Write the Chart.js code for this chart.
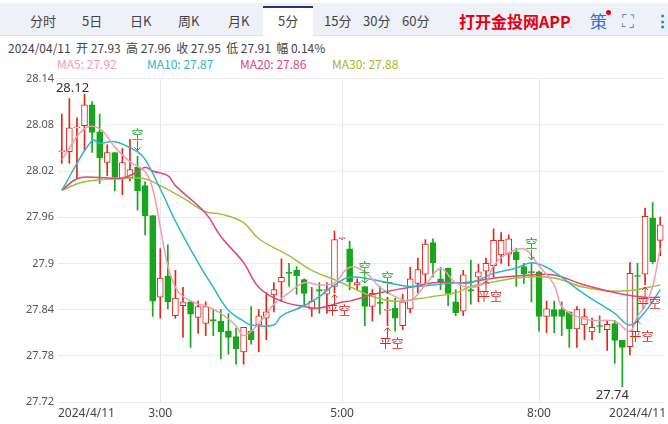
<!DOCTYPE html>
<html>
<head>
<meta charset="utf-8">
<script src="https://cdn.jsdelivr.net/npm/chart.js@4"></script>
<style>
  body { margin: 0; width: 668px; height: 424px; background: #fff; font-family: "Noto Sans CJK SC", "Noto Sans", sans-serif; overflow: hidden; position: relative; }
  .tabs { position: absolute; left: 0; top: 3px; width: 668px; height: 32px; background: #eef1f7; border-bottom: 1px solid #dde3ec; }
  .tab { position: absolute; top: 8px; font-size: 13px; color: #444; }
  .sel { position: absolute; left: 263px; top: 3px; width: 50px; height: 33px; background: #fff; border-top: 2px solid #1d3b7a; box-sizing: border-box; }
  .app { position: absolute; left: 459px; top: 6px; font-size: 16px; font-weight: bold; color: #e60012; }
  .info { position: absolute; left: 8px; top: 39px; font-size: 12px; color: #444; white-space: pre; }
  .ma { position: absolute; top: 55px; font-size: 12px; }
  #wrap { position: absolute; left: 0; top: 68px; width: 668px; height: 356px; }
</style>
</head>
<body>
<div class="tabs">
  <div class="sel"></div>
  <span class="tab" style="left:30px">分时</span>
  <span class="tab" style="left:82px">5日</span>
  <span class="tab" style="left:130px">日K</span>
  <span class="tab" style="left:178px">周K</span>
  <span class="tab" style="left:228px">月K</span>
  <span class="tab" style="left:278px">5分</span>
  <span class="tab" style="left:324px">15分</span>
  <span class="tab" style="left:363px">30分</span>
  <span class="tab" style="left:402px">60分</span>
  <span class="app">打开金投网APP</span>
  <span class="tab" style="left:590px;top:5px;font-size:17px;color:#2a6fd6">策</span>
  <span style="position:absolute;left:606px;top:7px;width:5px;height:5px;border-radius:50%;background:#e60012"></span>
  <span class="tab" style="left:622px;top:4px;font-size:17px;color:#2a6fd6">⛶</span>
  <span class="tab" style="left:654px;top:4px;font-size:17px;color:#2a6fd6;font-weight:bold">⋮</span>
</div>
<div class="info">2024/04/11  开 27.93  高 27.96  收 27.95  低 27.91  幅 0.14%</div>
<div class="ma" style="left:57px;color:#f29bb5">MA5: 27.92</div>
<div class="ma" style="left:147px;color:#32b4cc">MA10: 27.87</div>
<div class="ma" style="left:240px;color:#e0457b">MA20: 27.86</div>
<div class="ma" style="left:332px;color:#9bbb2a">MA30: 27.88</div>
<div id="wrap"><canvas id="c"></canvas></div>
<script>
// candles: open, high, low, close (5-minute bars)
const opens  = [28.045,28.045,28.076,28.079,28.106,28.071,28.031,28.044,28.010,28.011,28.025,28.001,27.962,27.856,27.884,27.832,27.845,27.850,27.830,27.822,
                27.827,27.825,27.812,27.805,27.785,27.812,27.820,27.829,27.859,27.876,27.888,27.891,27.879,27.841,27.866,27.860,27.870,27.932,27.919,27.872,
                27.870,27.844,27.849,27.839,27.842,27.819,27.841,27.874,27.886,27.927,27.880,27.894,27.850,27.838,27.866,27.882,27.890,27.897,27.911,27.912,
                27.915,27.896,27.889,27.889,27.831,27.840,27.840,27.837,27.815,27.820,27.811,27.819,27.814,27.822,27.800,27.792,27.884,27.886,27.959,27.930];
const highs  = [28.094,28.114,28.089,28.120,28.110,28.094,28.054,28.044,28.049,28.061,28.039,28.006,27.962,27.919,27.924,27.891,27.869,27.850,27.851,27.850,
                27.840,27.840,27.835,27.816,27.817,27.844,27.840,27.862,27.875,27.906,27.900,27.896,27.880,27.869,27.875,27.875,27.942,27.933,27.929,27.880,
                27.870,27.866,27.870,27.856,27.855,27.860,27.895,27.907,27.931,27.932,27.895,27.894,27.866,27.891,27.904,27.899,27.907,27.945,27.940,27.937,
                27.920,27.900,27.900,27.890,27.851,27.851,27.850,27.837,27.844,27.841,27.829,27.832,27.826,27.826,27.800,27.901,27.900,27.972,27.979,27.960];
const lows   = [28.030,28.030,28.011,28.047,28.044,28.004,28.014,27.994,27.989,28.007,27.969,27.937,27.831,27.829,27.841,27.829,27.804,27.791,27.809,27.806,
                27.806,27.776,27.782,27.769,27.769,27.795,27.785,27.801,27.837,27.851,27.870,27.860,27.844,27.831,27.835,27.835,27.862,27.931,27.866,27.866,
                27.819,27.825,27.834,27.819,27.812,27.814,27.836,27.862,27.872,27.882,27.866,27.845,27.832,27.832,27.847,27.850,27.880,27.882,27.900,27.897,
                27.870,27.874,27.850,27.812,27.810,27.810,27.806,27.791,27.791,27.801,27.801,27.810,27.787,27.770,27.740,27.781,27.825,27.872,27.900,27.910];
const closes = [28.046,28.076,28.077,28.106,28.070,28.037,28.044,28.012,28.031,28.022,27.994,27.962,27.851,27.881,27.850,27.855,27.850,27.834,27.844,27.844,
                27.825,27.811,27.804,27.789,27.817,27.801,27.832,27.837,27.866,27.882,27.887,27.884,27.861,27.851,27.864,27.866,27.931,27.933,27.876,27.875,
                27.844,27.861,27.848,27.840,27.829,27.850,27.880,27.892,27.925,27.901,27.875,27.861,27.836,27.885,27.864,27.889,27.900,27.930,27.930,27.932,
                27.905,27.886,27.888,27.831,27.841,27.831,27.831,27.815,27.840,27.831,27.817,27.818,27.821,27.800,27.791,27.887,27.883,27.961,27.902,27.950];

// moving averages at sample candles (index -> value)
const ma5Pts  = [[0,28.035],[3,28.075],[5,28.075],[7,28.051],[9,28.032],[11,28.019],[12,27.997],[13,27.947],[14,27.897],[15,27.869],[16,27.857],[18,27.847],
                 [19,27.845],[21,27.835],[23,27.819],[24,27.806],[26,27.822],[28,27.847],[30,27.862],[32,27.875],[34,27.872],[36,27.875],[38,27.895],[40,27.889],
                 [42,27.869],[44,27.857],[46,27.852],[48,27.872],[50,27.893],[52,27.875],[54,27.869],[56,27.876],[57,27.897],[59,27.914],[61,27.919],[62,27.910],
                 [63,27.897],[65,27.872],[66,27.844],[68,27.831],[70,27.826],[73,27.825],[75,27.812],[76,27.831],[77,27.845],[78,27.870],[79,27.920]];
const ma10Pts = [[0,27.995],[4,28.060],[5,28.056],[7,28.058],[10,28.045],[11,28.035],[13,27.997],[15,27.955],[18,27.901],[20,27.869],[22,27.839],[24,27.825],
                 [25,27.820],[28,27.820],[29,27.832],[32,27.845],[34,27.857],[36,27.872],[38,27.882],[41,27.879],[43,27.875],[46,27.870],[49,27.872],[52,27.875],
                 [54,27.875],[57,27.887],[60,27.894],[62,27.901],[64,27.895],[66,27.882],[69,27.860],[73,27.835],[75,27.820],[77,27.837],[78,27.851],[79,27.866]];
const ma20Pts = [[0,27.995],[2,28.010],[4,28.012],[8,28.011],[10,28.019],[11,28.025],[12,28.020],[14,28.014],[15,28.001],[19,27.965],[21,27.935],[24,27.901],
                 [26,27.869],[29,27.851],[32,27.844],[34,27.842],[37,27.850],[38,27.851],[42,27.862],[46,27.869],[49,27.875],[53,27.875],[54,27.876],[58,27.882],
                 [62,27.885],[65,27.885],[69,27.872],[74,27.860],[77,27.856],[79,27.856]];
const ma30Pts = [[0,27.995],[3,28.006],[8,28.010],[11,28.010],[13,28.001],[16,27.985],[19,27.967],[21,27.964],[24,27.953],[26,27.932],[30,27.910],[33,27.891],
                 [36,27.879],[38,27.870],[41,27.857],[44,27.851],[47,27.854],[49,27.857],[52,27.862],[54,27.870],[57,27.876],[61,27.882],[65,27.881],[69,27.869],
                 [74,27.864],[79,27.872]];

const yTicks = [28.14, 28.08, 28.02, 27.96, 27.9, 27.84, 27.78, 27.72];
const timeLabels = { 0: '2024/4/11', 13: '3:00', 37: '5:00', 63: '8:00', 79: '2024/4/11' };
// trade signal markers: [index, price, text, kind]
const signals = [[10, 28.044, '空', 'short'], [40, 27.872, '空', 'short'], [43, 27.858, '空', 'short'], [62, 27.902, '空', 'short'],
                 [36, 27.862, '平空', 'cover'], [43, 27.819, '平空', 'cover'], [56, 27.880, '平空', 'cover'], [76, 27.828, '平空', 'cover'], [77, 27.872, '平空', 'cover']];

const UP = '#e0271b';
const DOWN = '#17a61d';
const labels = closes.map((_, i) => i);
const isUp = closes.map((c, i) => c >= opens[i]);

function sparse(pts) {
    const arr = labels.map(() => null);
    pts.forEach(([i, v]) => { arr[i] = v; });
    return arr;
}

function maSet(pts, color) {
    return {
        type: 'line', data: sparse(pts), borderColor: color, borderWidth: 1.5,
        pointRadius: 0, tension: 0.4, spanGaps: true, order: 0
    };
}

const extras = {
    id: 'extras',
    afterDraw(chart) {
        const { ctx, scales: { x, y }, chartArea } = chart;
        ctx.save();
        // time labels
        ctx.font = '12px "Noto Sans", sans-serif';
        ctx.fillStyle = '#444';
        ctx.textBaseline = 'top';
        Object.keys(timeLabels).forEach(k => {
            const i = Number(k);
            const px = x.getPixelForValue(i);
            const t = timeLabels[k];
            ctx.textAlign = i === 0 ? 'left' : (i === labels.length - 1 ? 'right' : 'center');
            const tx = i === 0 ? chartArea.left : (i === labels.length - 1 ? chartArea.right + 2 : px);
            ctx.fillText(t, tx, chartArea.bottom + 6);
        });
        // max / min labels
        ctx.font = '13px "Noto Sans", sans-serif';
        ctx.fillStyle = '#333';
        ctx.textAlign = 'center';
        ctx.textBaseline = 'bottom';
        ctx.fillText('28.12', x.getPixelForValue(3) - 12, y.getPixelForValue(28.12) + 1);
        ctx.textBaseline = 'top';
        ctx.fillText('27.74', x.getPixelForValue(74) - 10, y.getPixelForValue(27.74) + 2);
        // signals
        ctx.font = '12px "Noto Sans CJK SC", sans-serif';
        signals.forEach(([i, p, txt, kind]) => {
            const px = x.getPixelForValue(i);
            const py = y.getPixelForValue(p);
            if (kind === 'short') {
                ctx.fillStyle = ctx.strokeStyle = DOWN;
                ctx.textBaseline = 'bottom';
                ctx.fillText(txt, px, py - 12);
                ctx.beginPath(); ctx.moveTo(px, py - 12); ctx.lineTo(px, py - 2);
                ctx.moveTo(px - 3, py - 5); ctx.lineTo(px, py - 2); ctx.lineTo(px + 3, py - 5); ctx.stroke();
            } else {
                ctx.fillStyle = ctx.strokeStyle = UP;
                ctx.textBaseline = 'top';
                ctx.beginPath(); ctx.moveTo(px, py + 2); ctx.lineTo(px, py + 12);
                ctx.moveTo(px - 3, py + 5); ctx.lineTo(px, py + 2); ctx.lineTo(px + 3, py + 5); ctx.stroke();
                ctx.fillText(txt, px + 4, py + 12);
            }
        });
        ctx.restore();
    }
};

new Chart(document.getElementById('c'), {
    type: 'bar',
    data: {
        labels: labels,
        datasets: [
            maSet(ma5Pts, '#f29bb5'),
            maSet(ma10Pts, '#32b4cc'),
            maSet(ma20Pts, '#e0457b'),
            maSet(ma30Pts, '#a3bf3a'),
            {
                // bodies
                data: labels.map(i => [opens[i], closes[i]]),
                backgroundColor: isUp.map(u => u ? '#ffffff' : DOWN),
                borderColor: isUp.map(u => u ? UP : DOWN),
                borderWidth: 1, borderSkipped: false, barThickness: 6,
                minBarLength: 1, grouped: false, order: 1
            },
            {
                // wicks
                data: labels.map(i => [lows[i], highs[i]]),
                backgroundColor: isUp.map(u => u ? UP : DOWN),
                borderWidth: 0, barThickness: 1, grouped: false, order: 2
            }
        ]
    },
    options: {
        responsive: true,
        maintainAspectRatio: false,
        animation: false,
        layout: { padding: { top: 8, right: 4, bottom: 22, left: 0 } },
        plugins: { legend: { display: false }, tooltip: { enabled: false } },
        scales: {
            x: {
                offset: true,
                ticks: { display: false },
                border: { display: false },
                grid: {
                    color: ctx => (ctx.index in timeLabels && ctx.index !== 0 && ctx.index !== labels.length - 1) ? '#e8e8e8' : 'rgba(0,0,0,0)',
                    offset: false, drawTicks: false
                }
            },
            y: {
                min: 27.72, max: 28.14,
                afterBuildTicks: s => { s.ticks = yTicks.map(v => ({ value: v })); },
                afterFit: s => { s.width = 58; },
                ticks: { color: '#555', font: { size: 11, family: '"Noto Sans", sans-serif' }, padding: 4, callback: v => String(Number(v.toFixed(2))) },
                border: { display: false },
                grid: { color: '#ebebeb', drawTicks: false }
            }
        }
    },
    plugins: [extras]
});
</script>
</body>
</html>
